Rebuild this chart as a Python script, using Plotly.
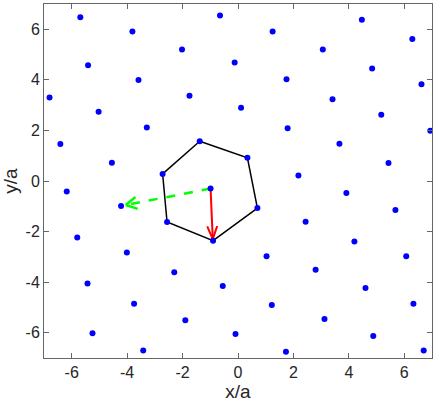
import numpy as np
import plotly.graph_objects as go

# lattice sites (in units of a)
site_x = [-5.69, -3.81, -2.02, -0.65, -5.41, -3.59, -1.75, -6.80, -5.03, -3.29,
          -1.38, -6.41, -4.55, -2.72, -6.18, -0.99, 1.25, 3.06, 4.47, 6.29,
          -0.12, 1.75, 4.84, 6.62, 3.41, 0.11, 1.79, 5.17, 6.94, 3.66,
          0.34, 5.43, 2.18, 3.91, -4.22, -2.56, -0.90, -5.80, -4.01, -2.30,
          -5.43, -3.75, -1.90, -5.25, -3.42, 0.70, 2.44, 4.20, 5.68, 6.07,
          1.03, 2.80, -0.55, 4.60, 1.22, 3.12, 6.33, -0.09, 4.88, 1.73, 6.70]
site_y = [6.48, 5.91, 5.20, 6.55, 4.58, 3.99, 3.37, 3.30, 2.74, 2.12,
          1.57, 1.46, 0.72, 0.28, -0.42, -0.30, 5.91, 5.20, 6.38, 5.62,
          4.69, 4.02, 4.45, 3.83, 3.23, 2.90, 2.09, 2.62, 1.99, 1.47,
          0.92, 0.71, 0.22, -0.47, -0.99, -1.62, -2.36, -2.23, -2.83, -3.61,
          -4.05, -4.85, -5.51, -6.02, -6.70, -1.07, -1.61, -2.39, -1.15, -2.98,
          -2.98, -3.51, -4.15, -4.23, -4.90, -5.46, -4.85, -6.05, -6.13, -6.75, -6.70]

# nearest-neighbour hexagon around the central site
hex_x = [-1.38, 0.34, 0.70, -0.90, -2.56, -2.72, -1.38]
hex_y = [1.57, 0.92, -1.07, -2.36, -1.62, 0.28, 1.57]

# arrows: start point and end point
red_start = (-0.99, -0.30)
red_end = (-0.91, -2.30)
green_start = (-0.99, -0.30)
green_end = (-4.05, -0.95)

tick_vals = [-6, -4, -2, 0, 2, 4, 6]
tick_text = ["-6", "-4", "-2", "0", "2", "4", "6"]

# pixel scale of the plot area (for arrow heads)
PX_X = 388 / 14.0
PX_Y = 354 / 14.0


def head(start, end, back_px, half_px):
    # open V-shaped arrowhead, built in pixel space
    dx = (end[0] - start[0]) * PX_X
    dy = (end[1] - start[1]) * PX_Y
    L = np.hypot(dx, dy)
    ux, uy = dx / L, dy / L
    px, py = -uy, ux
    xs, ys = [], []
    for s in (1, -1):
        bx = -ux * back_px + s * px * half_px
        by = -uy * back_px + s * py * half_px
        xs += [end[0] + bx / PX_X, end[0], None]
        ys += [end[1] + by / PX_Y, end[1], None]
    return xs, ys


fig = go.Figure()

fig.add_trace(go.Scatter(x=hex_x, y=hex_y, mode="lines",
                         line=dict(color="black", width=1.5), hoverinfo="skip"))

fig.add_trace(go.Scatter(x=[green_start[0], green_end[0]], y=[green_start[1], green_end[1]],
                         mode="lines", line=dict(color="#00ff00", width=2.5, dash="dash")))
gx, gy = head(green_start, green_end, 11, 6)
fig.add_trace(go.Scatter(x=gx, y=gy, mode="lines", line=dict(color="#00ff00", width=2.5)))

fig.add_trace(go.Scatter(x=[red_start[0], red_end[0]], y=[red_start[1], red_end[1]],
                         mode="lines", line=dict(color="red", width=2)))
rx, ry = head(red_start, red_end, 13, 5)
fig.add_trace(go.Scatter(x=rx, y=ry, mode="lines", line=dict(color="red", width=2)))

fig.add_trace(go.Scatter(x=site_x, y=site_y, mode="markers",
                         marker=dict(color="#0000ff", size=6)))

axis_style = dict(
    tickvals=tick_vals, ticktext=tick_text,
    ticks="inside", ticklen=5, tickcolor="#666666",
    showline=True, linecolor="#666666", linewidth=1, mirror="ticks",
    showgrid=False, zeroline=False, automargin=False,
    tickfont=dict(family="Liberation Sans, Arial", size=16, color="#262626"),
)

fig.update_xaxes(range=[-7, 7], **axis_style,
                 title=dict(text="x/a", font=dict(family="Liberation Sans, Arial", size=19, color="#262626"),
                            standoff=2))
fig.update_yaxes(range=[-7, 7], **axis_style,
                 title=dict(text="y/a", font=dict(family="Liberation Sans, Arial", size=19, color="#262626"),
                            standoff=4))

fig.update_layout(
    width=436, height=409,
    margin=dict(l=44, r=4, t=4, b=51),
    plot_bgcolor="white", paper_bgcolor="white",
    showlegend=False,
)

# drop the browser's default body margin so the figure sits flush in the window
fig.write_html("out.html", config={"displayModeBar": False},
               post_script="document.body.style.margin='0';")
